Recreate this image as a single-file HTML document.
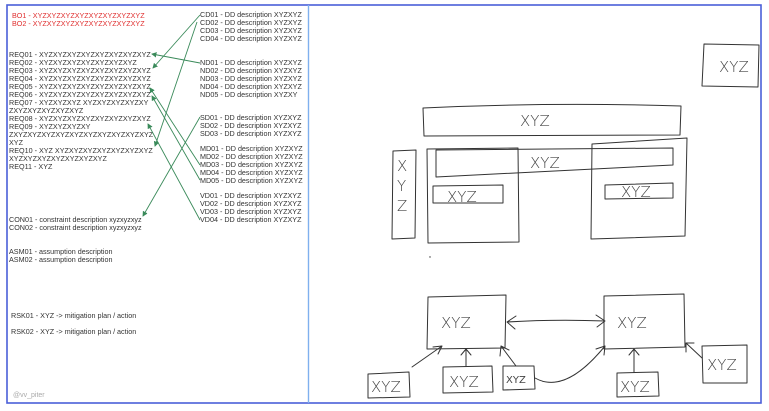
<!DOCTYPE html>
<html><head><meta charset="utf-8"><style>
body{margin:0;background:#fff;width:769px;height:411px;overflow:hidden}
svg{display:block}
text{font-family:"Liberation Sans",sans-serif}
.t{font-size:7.2px;fill:#333}
.r{font-size:7.2px;fill:#e03030}
.h{fill:none;stroke:#333;stroke-width:1;stroke-linejoin:round;stroke-linecap:round}
.x{font-size:15px;fill:#444;font-family:"DejaVu Sans",sans-serif;font-weight:200}
.g{stroke:#3a8a5a;stroke-width:0.9;fill:none}
</style></head><body>
<svg width="769" height="411" viewBox="0 0 769 411">
<defs><marker id="a" markerWidth="6" markerHeight="6" refX="5" refY="3" orient="auto"><path d="M0,0L6,3L0,6z" fill="#3a8a5a"/></marker></defs>
<rect x="7" y="5" width="754" height="398" fill="none" stroke="#4a5fd8" stroke-width="1.6"/>
<line x1="308.5" y1="5" x2="308.5" y2="403" stroke="#7fb0ee" stroke-width="1.4"/>
<g>
<text class="r" x="12" y="18">BO1 - XYZXYZXYZXYZXYZXYZXYZXYZ</text>
<text class="r" x="12" y="26">BO2 - XYZXYZXYZXYZXYZXYZXYZXYZ</text>
<text class="t" x="9" y="57">REQ01 - XYZXYZXYZXYZXYZXYZXYZXYZ</text>
<text class="t" x="9" y="65">REQ02 - XYZXYZXYZXYZXYZXYZXYZ</text>
<text class="t" x="9" y="73">REQ03 - XYZXYZXYZXYZXYZXYZXYZXYZ</text>
<text class="t" x="9" y="81">REQ04 - XYZXYZXYZXYZXYZXYZXYZXYZ</text>
<text class="t" x="9" y="89">REQ05 - XYZXYZXYZXYZXYZXYZXYZXYZ</text>
<text class="t" x="9" y="97">REQ06 - XYZXYZXYZXYZXYZXYZXYZXYZ</text>
<text class="t" x="9" y="105">REQ07 - XYZXYZXYZ XYZXYZXYZXYZXY</text>
<text class="t" x="9" y="113">ZXYZXYZXYZXYZXYZ</text>
<text class="t" x="9" y="121">REQ08 - XYZXYZXYZXYZXYZXYZXYZXYZ</text>
<text class="t" x="9" y="129">REQ09 - XYZXYZXYZXY</text>
<text class="t" x="9" y="137">ZXYZXYZXYZXYZXYZXYZXYZXYZXYZXYZ</text>
<text class="t" x="9" y="145">XYZ</text>
<text class="t" x="9" y="153">REQ10 - XYZ XYZXYZXYZXYZXYZXYZXYZ</text>
<text class="t" x="9" y="161">XYZXYZXYZXYZXYZXYZXYZ</text>
<text class="t" x="9" y="169">REQ11 - XYZ</text>
<text class="t" x="9" y="222">CON01 - constraint description xyzxyzxyz</text>
<text class="t" x="9" y="230">CON02 - constraint description xyzxyzxyz</text>
<text class="t" x="9" y="254">ASM01 - assumption description</text>
<text class="t" x="9" y="262">ASM02 - assumption description</text>
<text class="t" x="11" y="318">RSK01 - XYZ -&gt; mitigation plan / action</text>
<text class="t" x="11" y="334">RSK02 - XYZ -&gt; mitigation plan / action</text>
<text x="13" y="397" style="font-size:7px;fill:#aaa">@vv_piter</text>
</g>
<g>
<text class="t" x="200" y="17">CD01 - DD description XYZXYZ</text>
<text class="t" x="200" y="25">CD02 - DD description XYZXYZ</text>
<text class="t" x="200" y="33">CD03 - DD description XYZXYZ</text>
<text class="t" x="200" y="41">CD04 - DD description XYZXYZ</text>
<text class="t" x="200" y="65">ND01 - DD description XYZXYZ</text>
<text class="t" x="200" y="73">ND02 - DD description XYZXYZ</text>
<text class="t" x="200" y="81">ND03 - DD description XYZXYZ</text>
<text class="t" x="200" y="89">ND04 - DD description XYZXYZ</text>
<text class="t" x="200" y="97">ND05 - DD description XYZXY</text>
<text class="t" x="200" y="120">SD01 - DD description XYZXYZ</text>
<text class="t" x="200" y="128">SD02 - DD description XYZXYZ</text>
<text class="t" x="200" y="136">SD03 - DD description XYZXYZ</text>
<text class="t" x="200" y="151">MD01 - DD description XYZXYZ</text>
<text class="t" x="200" y="159">MD02 - DD description XYZXYZ</text>
<text class="t" x="200" y="167">MD03 - DD description XYZXYZ</text>
<text class="t" x="200" y="175">MD04 - DD description XYZXYZ</text>
<text class="t" x="200" y="183">MD05 - DD description XYZXYZ</text>
<text class="t" x="200" y="198">VD01 - DD description XYZXYZ</text>
<text class="t" x="200" y="206">VD02 - DD description XYZXYZ</text>
<text class="t" x="200" y="214">VD03 - DD description XYZXYZ</text>
<text class="t" x="200" y="222">VD04 - DD description XYZXYZ</text>
</g>
<g marker-end="url(#a)">
<line class="g" x1="200" y1="15" x2="153" y2="68"/>
<line class="g" x1="197" y1="22" x2="155" y2="146"/>
<line class="g" x1="200" y1="63" x2="152" y2="54"/>
<line class="g" x1="200" y1="117" x2="143" y2="216"/>
<line class="g" x1="200" y1="165" x2="150" y2="88"/>
<line class="g" x1="200" y1="180" x2="152" y2="96"/>
<line class="g" x1="200" y1="220" x2="148" y2="124"/>
</g>
<g>
<path class="h" d="M704,44 L759,45 L758,87 L702,86 Z"/><text class="x" x="719" y="72">XYZ</text>
<path class="h" d="M423,108 Q550,102 681,106 L680,135 Q550,136 424,136 Z"/><text class="x" x="520" y="126">XYZ</text>
<path class="h" d="M393,151 L416,150 L415,238 L392,239 Z"/>
<text class="x" x="397" y="171">X</text><text class="x" x="397" y="191">Y</text><text class="x" x="397" y="211">Z</text>
<path class="h" d="M427,149 L518,148 L519,242 L428,243 Z"/>
<path class="h" d="M592,144 L687,138 L685,236 L591,239 Z"/>
<path class="h" d="M436,150 L673,148 L673,165 L436,177 Z"/><text class="x" x="530" y="168">XYZ</text>
<path class="h" d="M433,186 L503,185 L503,203 L433,203 Z"/><text class="x" x="447" y="202">XYZ</text>
<path class="h" d="M605,185 L673,183 L673,198 L605,199 Z"/><text class="x" x="621" y="197">XYZ</text>
<circle cx="430" cy="257" r="0.7" fill="#333"/>
<path class="h" d="M428,297 L506,295 L505,348 L427,349 Z"/><text class="x" x="441" y="328">XYZ</text>
<path class="h" d="M604,296 L684,294 L685,347 L604,349 Z"/><text class="x" x="617" y="328">XYZ</text>
<path class="h" d="M507,322 Q555,319 605,321 M516,316 L507,322 L515,329 M596,315 L605,321 L597,327"/>
<path class="h" d="M368,374 L409,372 L410,397 L368,398 Z"/><text class="x" x="371" y="392">XYZ</text>
<path class="h" d="M443,367 L492,366 L493,392 L443,393 Z"/><text class="x" x="449" y="387">XYZ</text>
<path class="h" d="M503,366 L534,366 L535,389 L503,390 Z"/><text x="506" y="383" style="font-size:10px;fill:#444;font-family:'DejaVu Sans'">XYZ</text>
<path class="h" d="M617,373 L658,372 L659,396 L617,397 Z"/><text class="x" x="620" y="392">XYZ</text>
<path class="h" d="M702,346 L747,345 L747,383 L703,383 Z"/><text class="x" x="707" y="370">XYZ</text>
<path class="h" d="M412,367 L442,346 M433,347 L442,346 L438,354"/>
<path class="h" d="M466,366 L466,349 M461,355 L466,349 L471,355"/>
<path class="h" d="M516,366 L501,346 M500,356 L501,346 L509,350"/>
<path class="h" d="M535,378 Q565,395 605,346 M596,349 L605,346 L604,355"/>
<path class="h" d="M634,372 L634,349 M629,355 L634,349 L639,355"/>
<path class="h" d="M702,358 L686,343 M686,352 L686,343 L694,343"/>
</g>
</svg>
</body></html>
